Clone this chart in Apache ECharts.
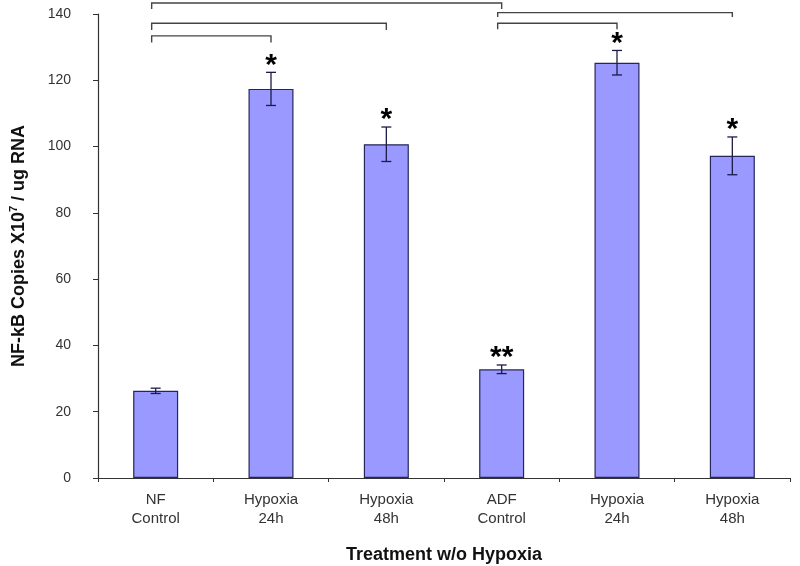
<!DOCTYPE html>
<html>
<head>
<meta charset="utf-8">
<script src="https://cdn.jsdelivr.net/npm/echarts@6/dist/echarts.min.js"></script>
<style>
html, body { margin: 0; padding: 0; background: #fff; }
#chart { width: 800px; height: 566px; }
</style>
</head>
<body>
<div id="chart"></div>
<script>
var categories = ['NF\nControl', 'Hypoxia\n24h', 'Hypoxia\n48h', 'ADF\nControl', 'Hypoxia\n24h', 'Hypoxia\n48h'];
var copies = [26.3, 117.4, 100.7, 32.8, 125.3, 97.2];
var errors = [0.8, 5.0, 5.2, 1.3, 3.7, 5.7];
var stars = ['', '*', '*', '**', '*', '*'];
// significance brackets: [from category, to category, level, drop]
var brackets = [
    [0, 3, 143.3, 1.8],
    [0, 2, 137.2, 2],
    [0, 1, 133.4, 2],
    [3, 5, 140.4, 1.3],
    [3, 4, 137.2, 1.8]
];

var errData = copies.map(function (v, i) {
    return [i, v - errors[i], v + errors[i]];
});

var font = '"Liberation Sans", Arial, sans-serif';

function renderErr(params, api) {
    var x = api.value(0);
    var lo = api.coord([x, api.value(1)]);
    var hi = api.coord([x, api.value(2)]);
    var cap = 5;
    var st = { stroke: '#1c1c48', lineWidth: 1.3 };
    return {
        type: 'group',
        children: [
            { type: 'line', shape: { x1: lo[0], y1: lo[1], x2: hi[0], y2: hi[1] }, style: st },
            { type: 'line', shape: { x1: lo[0] - cap, y1: lo[1], x2: lo[0] + cap, y2: lo[1] }, style: st },
            { type: 'line', shape: { x1: hi[0] - cap, y1: hi[1], x2: hi[0] + cap, y2: hi[1] }, style: st },
            {
                type: 'text',
                style: {
                    text: stars[params.dataIndex],
                    x: hi[0], y: hi[1] + 8,
                    align: 'center', verticalAlign: 'bottom',
                    fill: '#000',
                    font: 'bold 30px ' + font
                }
            }
        ]
    };
}

function renderBracket(params, api) {
    var a = api.coord([api.value(0), api.value(2)]);
    var b = api.coord([api.value(1), api.value(2)]);
    var d = api.coord([api.value(0), api.value(2) - api.value(3)]);
    return {
        type: 'polyline',
        shape: { points: [[a[0] - 4, d[1]], [a[0] - 4, a[1]], [b[0], b[1]], [b[0], d[1]]] },
        style: { stroke: '#444', lineWidth: 1.4, fill: null }
    };
}

var myChart = echarts.init(document.getElementById('chart'));
var option = {
    backgroundColor: '#fff',
    animation: false,
    grid: { left: 98, right: 10, top: 14, bottom: 88, outerBoundsMode: 'none' },
    xAxis: {
        type: 'category',
        data: categories,
        name: 'Treatment w/o Hypoxia',
        nameLocation: 'middle',
        nameGap: 68,
        nameTextStyle: { fontFamily: font, fontWeight: 'bold', fontSize: 18, color: '#111' },
        axisLine: { lineStyle: { color: '#333', width: 1.2 } },
        axisTick: { show: true, length: 4, lineStyle: { color: '#333' } },
        axisLabel: { fontFamily: font, fontSize: 15, color: '#333', lineHeight: 19, margin: 12 }
    },
    yAxis: {
        type: 'value',
        min: 0, max: 140, interval: 20,
        name: 'NF-kB Copies X10{sup|7} / ug RNA',
        nameLocation: 'middle',
        nameGap: 68,
        nameTextStyle: {
            fontFamily: font, fontWeight: 'bold', fontSize: 18, color: '#111', lineHeight: 22,
            rich: { sup: { fontFamily: font, fontWeight: 'bold', fontSize: 11, color: '#111', verticalAlign: 'top', lineHeight: 22 } }
        },
        splitLine: { show: false },
        axisLine: { show: true, lineStyle: { color: '#333', width: 1.2 } },
        axisTick: { show: true, length: 5, lineStyle: { color: '#333' } },
        axisLabel: { fontFamily: font, fontSize: 14, color: '#333', margin: 27 }
    },
    series: [
        {
            name: 'NF-kB',
            type: 'bar',
            data: copies,
            barWidth: 45,
            itemStyle: { color: '#9999ff', borderColor: '#26265a', borderWidth: 1.2 }
        },
        {
            type: 'custom',
            data: errData,
            encode: { x: 0, y: [1, 2] },
            renderItem: renderErr,
            clip: false,
            z: 5
        },
        {
            type: 'custom',
            data: brackets,
            encode: { x: [0, 1], y: 2 },
            renderItem: renderBracket,
            clip: false,
            z: 5
        }
    ]
};
myChart.setOption(option);
</script>
</body>
</html>
